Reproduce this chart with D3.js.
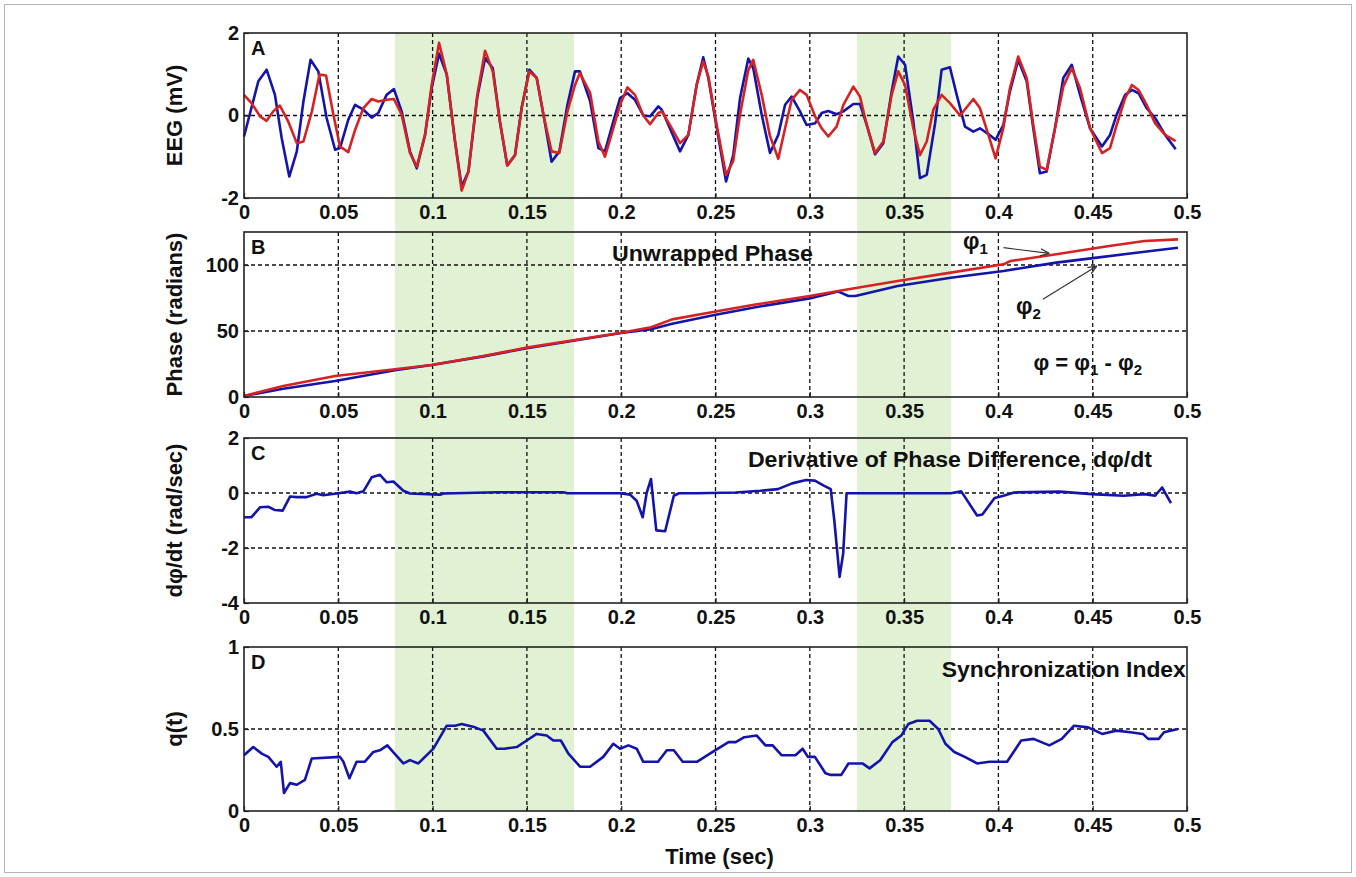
<!DOCTYPE html>
<html>
<head>
<meta charset="utf-8">
<script src="https://cdn.jsdelivr.net/npm/d3@7"></script>
<style>
body { margin: 0; background: #fff; }
svg text { font-family: "Liberation Sans", Arial, sans-serif; font-weight: bold; fill: #111; }
</style>
</head>
<body>
<svg id="chart"></svg>
<script>
// x axis ticks (time in sec)
const timeTicks = [0, 0.05, 0.1, 0.15, 0.2, 0.25, 0.3, 0.35, 0.4, 0.45, 0.5];
const timeTickLabels = ['0', '0.05', '0.1', '0.15', '0.2', '0.25', '0.3', '0.35', '0.4', '0.45', '0.5'];

// shaded (synchronized) intervals
const bandStart = [0.08, 0.325];
const bandEnd = [0.175, 0.375];

// y ticks per panel
const eegTicks = [-2, 0, 2];
const phaseTicks = [0, 50, 100];
const derivTicks = [-4, -2, 0, 2];
const syncTicks = [0, 0.5, 1];

// A: EEG signals [t, mV]
const eegBlue = [
  [0, -0.51], [0.0076, 0.83], [0.012, 1.11], [0.0164, 0.50], [0.020, -0.55], [0.024, -1.48],
  [0.028, -0.87], [0.0315, 0.34], [0.0353, 1.35], [0.0394, 1.07], [0.0438, -0.06], [0.0483, -0.83],
  [0.0509, -0.79], [0.0553, -0.10], [0.0589, 0.26], [0.0633, 0.14], [0.0677, -0.05], [0.0712, 0.06],
  [0.0756, 0.50], [0.0795, 0.64], [0.0836, 0.10], [0.088, -0.87], [0.0916, -1.28], [0.096, -0.47],
  [0.0995, 0.66], [0.1034, 1.50], [0.1075, 0.99], [0.1119, -0.63], [0.1154, -1.72], [0.119, -1.36],
  [0.1237, 0.45], [0.1278, 1.39], [0.1319, 1.15], [0.1357, -0.15], [0.1396, -1.21], [0.1437, -0.96],
  [0.1472, 0.18], [0.1513, 1.11], [0.1552, 0.91], [0.1591, -0.06], [0.1631, -1.12], [0.1672, -0.87],
  [0.1715, 0.26], [0.1755, 1.07], [0.1781, 1.07], [0.1835, 0.35], [0.1879, -0.79], [0.1914, -0.87],
  [0.1958, -0.15], [0.1994, 0.42], [0.2033, 0.54], [0.2073, 0.38], [0.2117, 0.0], [0.2153, -0.02],
  [0.2197, 0.22], [0.2215, 0.14], [0.2258, -0.31], [0.2312, -0.87], [0.2356, -0.47], [0.2400, 0.74],
  [0.2435, 1.41], [0.2462, 0.91], [0.2497, -0.05], [0.2556, -1.60], [0.2594, -0.96], [0.2630, 0.42],
  [0.2674, 1.38], [0.2700, 1.15], [0.2745, 0.02], [0.2789, -0.91], [0.2833, -0.47], [0.2869, 0.26],
  [0.2904, 0.46], [0.2948, 0.10], [0.2983, -0.23], [0.3028, -0.19], [0.3063, 0.06], [0.3098, 0.11],
  [0.3142, 0.03], [0.3178, 0.10], [0.3231, 0.28], [0.3266, 0.28], [0.3302, -0.23], [0.3346, -0.94],
  [0.3390, -0.67], [0.3434, 0.58], [0.3469, 1.43], [0.3505, 1.23], [0.3549, -0.15], [0.3584, -1.52],
  [0.3620, -1.44], [0.3664, -0.20], [0.3699, 1.11], [0.3743, 1.17], [0.3779, 0.50], [0.3823, -0.27],
  [0.3867, -0.39], [0.3902, -0.31], [0.3947, -0.45], [0.3985, -0.59], [0.4026, -0.23], [0.4061, 0.58],
  [0.4105, 1.35], [0.4150, 0.83], [0.4185, -0.31], [0.4220, -1.40], [0.4256, -1.36], [0.4300, -0.31],
  [0.4344, 0.91], [0.4389, 1.23], [0.4433, 0.50], [0.4486, -0.31], [0.4549, -0.75], [0.4592, -0.47],
  [0.4627, 0.02], [0.4672, 0.50], [0.4708, 0.62], [0.4743, 0.54], [0.4786, 0.18], [0.4831, -0.06],
  [0.4884, -0.47], [0.494, -0.82]
];
const eegRed = [
  [0, 0.50], [0.004, 0.30], [0.0085, -0.02], [0.012, -0.13], [0.0155, 0.10], [0.019, 0.24],
  [0.0235, -0.15], [0.028, -0.67], [0.0315, -0.63], [0.036, 0.10], [0.040, 0.99], [0.0435, 0.97],
  [0.0474, 0.02], [0.0509, -0.75], [0.0553, -0.89], [0.0589, -0.35], [0.0633, 0.18], [0.0677, 0.40],
  [0.0712, 0.34], [0.0756, 0.38], [0.0795, 0.40], [0.0836, 0.02], [0.088, -0.91], [0.0916, -1.24],
  [0.096, -0.47], [0.0995, 0.74], [0.1034, 1.76], [0.1075, 1.00], [0.1119, -0.63], [0.1154, -1.82],
  [0.119, -1.36], [0.1237, 0.50], [0.1278, 1.57], [0.1319, 1.07], [0.1357, -0.15], [0.1396, -1.21],
  [0.1437, -0.96], [0.1472, 0.18], [0.1513, 1.07], [0.1552, 0.91], [0.1591, -0.06], [0.1631, -0.87],
  [0.1672, -0.91], [0.1715, 0.10], [0.1755, 0.74], [0.1781, 1.03], [0.1835, 0.55], [0.1879, -0.63],
  [0.1914, -1.00], [0.1958, -0.31], [0.1994, 0.26], [0.2033, 0.68], [0.2073, 0.50], [0.2117, 0.0],
  [0.2153, -0.21], [0.2197, 0.06], [0.2215, 0.10], [0.2258, -0.23], [0.2312, -0.67], [0.2356, -0.47],
  [0.2400, 0.74], [0.2435, 1.31], [0.2462, 0.95], [0.2497, 0.0], [0.2556, -1.44], [0.2594, -1.10],
  [0.2630, 0.02], [0.2674, 1.10], [0.2700, 1.35], [0.2745, 0.50], [0.2789, -0.50], [0.2833, -1.05],
  [0.2869, -0.31], [0.2904, 0.38], [0.2948, 0.62], [0.2983, 0.50], [0.3028, -0.02], [0.3063, -0.31],
  [0.3098, -0.51], [0.3142, -0.27], [0.3178, 0.26], [0.3231, 0.70], [0.3266, 0.46], [0.3302, -0.23],
  [0.3346, -0.91], [0.3390, -0.63], [0.3434, 0.50], [0.3469, 1.07], [0.3505, 0.74], [0.3549, -0.31],
  [0.3584, -0.96], [0.3620, -0.63], [0.3655, 0.14], [0.3699, 0.50], [0.3743, 0.30], [0.3797, 0.0],
  [0.3867, 0.40], [0.3902, 0.18], [0.3947, -0.47], [0.3985, -1.04], [0.4026, -0.31], [0.4061, 0.66],
  [0.4105, 1.43], [0.4150, 0.91], [0.4185, -0.23], [0.4220, -1.24], [0.4256, -1.32], [0.4300, -0.31],
  [0.4344, 0.70], [0.4389, 1.15], [0.4433, 0.66], [0.4486, -0.31], [0.4549, -0.91], [0.4592, -0.79],
  [0.4627, -0.23], [0.4672, 0.42], [0.4708, 0.74], [0.4743, 0.62], [0.4786, 0.26], [0.4831, -0.19],
  [0.4884, -0.47], [0.494, -0.62]
];

// B: unwrapped phase [t, rad]
const phaseRed = [
  [0, 0.8], [0.0208, 8.3], [0.0483, 15.9], [0.08, 21.0], [0.0995, 24.2], [0.127, 31.1], [0.15, 37.4],
  [0.2, 48.7], [0.2158, 52.8], [0.227, 58.8], [0.2494, 64.6], [0.2719, 70.2], [0.2999, 76.5],
  [0.3205, 81.6], [0.3466, 87.9], [0.3747, 94.2], [0.4027, 100.5], [0.4064, 103], [0.4307, 108.1],
  [0.4588, 114.4], [0.4775, 118.2], [0.4952, 119.4]
];
const phaseBlue = [
  [0, 0.8], [0.0208, 6.3], [0.0483, 12.1], [0.08, 20.2], [0.0995, 24.2], [0.127, 30.8], [0.15, 37.0],
  [0.2, 48.5], [0.2158, 51.3], [0.227, 55.5], [0.2494, 62.1], [0.2719, 68.2], [0.2999, 74.7],
  [0.3149, 80.0], [0.3205, 76.5], [0.3242, 76.5], [0.3466, 84.1], [0.3747, 90.4], [0.4027, 95.5],
  [0.4307, 101.8], [0.4522, 105.6], [0.4775, 110.1], [0.4952, 113.1]
];

// C: derivative of phase difference [t, rad/sec]
const dPhase = [
  [0, -0.88], [0.004, -0.88], [0.0085, -0.52], [0.0129, -0.50], [0.0164, -0.62], [0.0205, -0.64],
  [0.0244, -0.13], [0.028, -0.15], [0.0332, -0.15], [0.0385, -0.03], [0.042, -0.08], [0.0491, -0.02],
  [0.0562, 0.05], [0.0597, -0.01], [0.0633, 0.06], [0.0677, 0.57], [0.0721, 0.66], [0.0757, 0.39],
  [0.0792, 0.42], [0.0845, 0.08], [0.088, -0.02], [0.1039, -0.06], [0.106, -0.02], [0.134, 0.03],
  [0.1693, 0.03], [0.1715, -0.01], [0.1994, -0.01], [0.2047, -0.06], [0.2082, -0.28], [0.2114, -0.88],
  [0.2135, 0.0], [0.2158, 0.51], [0.2186, -1.36], [0.2233, -1.39], [0.2279, -0.10], [0.2307, -0.01],
  [0.2401, -0.01], [0.2607, 0.02], [0.2737, 0.08], [0.2831, 0.14], [0.2906, 0.35], [0.298, 0.47],
  [0.3027, 0.45], [0.3074, 0.27], [0.3111, 0.14], [0.313, -1.0], [0.3158, -3.05], [0.3177, -2.2],
  [0.3195, -0.01], [0.3747, -0.01], [0.3803, 0.06], [0.3887, -0.82], [0.3915, -0.78], [0.398, -0.18],
  [0.4027, -0.10], [0.4083, 0.02], [0.4326, 0.05], [0.4494, -0.04], [0.4664, -0.10], [0.4775, -0.04],
  [0.4831, -0.10], [0.4868, 0.20], [0.4915, -0.37]
];

// D: synchronization index q(t)
const syncIndex = [
  [0, 0.34], [0.0049, 0.39], [0.0094, 0.35], [0.0129, 0.33], [0.0173, 0.27], [0.0195, 0.30],
  [0.0212, 0.11], [0.0244, 0.17], [0.028, 0.16], [0.0323, 0.19], [0.0359, 0.32], [0.0509, 0.33],
  [0.0527, 0.30], [0.0559, 0.20], [0.0597, 0.30], [0.064, 0.30], [0.0686, 0.36], [0.072, 0.37],
  [0.076, 0.40], [0.079, 0.36], [0.0845, 0.29], [0.088, 0.31], [0.0924, 0.29], [0.1004, 0.38],
  [0.1075, 0.52], [0.1119, 0.52], [0.1154, 0.53], [0.1225, 0.51], [0.1269, 0.49], [0.134, 0.38],
  [0.138, 0.38], [0.1446, 0.39], [0.1499, 0.43], [0.1552, 0.47], [0.1605, 0.46], [0.164, 0.43],
  [0.168, 0.43], [0.172, 0.35], [0.1782, 0.27], [0.1835, 0.27], [0.1905, 0.33], [0.1958, 0.41],
  [0.1994, 0.38], [0.2038, 0.40], [0.2082, 0.38], [0.2117, 0.30], [0.2195, 0.30], [0.2242, 0.37],
  [0.2279, 0.37], [0.2326, 0.30], [0.2401, 0.30], [0.2485, 0.36], [0.2569, 0.42], [0.2607, 0.42],
  [0.2653, 0.45], [0.2719, 0.46], [0.2765, 0.40], [0.2803, 0.40], [0.285, 0.34], [0.2924, 0.34],
  [0.2962, 0.38], [0.299, 0.33], [0.3027, 0.33], [0.3083, 0.23], [0.3111, 0.22], [0.3167, 0.22],
  [0.3205, 0.29], [0.3279, 0.29], [0.3317, 0.26], [0.3373, 0.31], [0.3438, 0.42], [0.3485, 0.46],
  [0.3522, 0.53], [0.3569, 0.55], [0.3635, 0.55], [0.3681, 0.50], [0.3719, 0.41], [0.3766, 0.36],
  [0.3822, 0.33], [0.3887, 0.29], [0.3953, 0.30], [0.4046, 0.30], [0.4121, 0.43], [0.4186, 0.44],
  [0.427, 0.40], [0.4336, 0.44], [0.4401, 0.52], [0.4476, 0.51], [0.455, 0.47], [0.4625, 0.49],
  [0.47, 0.48], [0.4766, 0.47], [0.4794, 0.44], [0.485, 0.44], [0.4878, 0.48], [0.4952, 0.50]
];

const width = 1356;
const height = 877;
const plotLeft = 244;
const plotRight = 1187;
const blue = '#1414aa';
const red = '#d62222';

const svg = d3.select('#chart')
  .attr('width', width)
  .attr('height', height);

// thin frame around the whole figure
svg.append('rect')
  .attr('x', 4.5).attr('y', 4.5)
  .attr('width', width - 9).attr('height', height - 9)
  .attr('fill', 'none')
  .attr('stroke', '#b4b4b4');

const xScale = d3.scaleLinear()
  .domain([0, 0.5])
  .range([plotLeft, plotRight]);

const panels = [
  { label: 'A', top: 33, bottom: 198, domain: [-2, 2], ticks: eegTicks, title: 'EEG (mV)' },
  { label: 'B', top: 232, bottom: 397, domain: [0, 125], ticks: phaseTicks, title: 'Phase (radians)' },
  { label: 'C', top: 438, bottom: 603, domain: [-4, 2], ticks: derivTicks, title: 'dφ/dt (rad/sec)' },
  { label: 'D', top: 647, bottom: 811, domain: [0, 1], ticks: syncTicks, title: 'q(t)' }
];
panels.forEach(p => {
  p.y = d3.scaleLinear().domain(p.domain).range([p.bottom, p.top]);
});

// green shaded intervals across all panels
svg.selectAll('rect.band')
  .data(d3.zip(bandStart, bandEnd))
  .enter()
  .append('rect')
  .attr('class', 'band')
  .attr('x', d => xScale(d[0]))
  .attr('width', d => xScale(d[1]) - xScale(d[0]))
  .attr('y', panels[0].top)
  .attr('height', panels[3].bottom - panels[0].top)
  .attr('fill', '#e1f1d3');

const line = (y) => d3.line()
  .x(d => xScale(d[0]))
  .y(d => y(d[1]));

const drawPanel = (p, series) => {
  const g = svg.append('g');

  // dashed grid
  g.selectAll('line.vgrid')
    .data(timeTicks.slice(1, -1))
    .enter()
    .append('line')
    .attr('x1', d => xScale(d)).attr('x2', d => xScale(d))
    .attr('y1', p.top).attr('y2', p.bottom)
    .attr('stroke', '#111')
    .attr('stroke-width', 1.3)
    .attr('stroke-dasharray', '4,3');

  g.selectAll('line.hgrid')
    .data(p.ticks.filter(t => t > p.domain[0] && t < p.domain[1]))
    .enter()
    .append('line')
    .attr('x1', plotLeft).attr('x2', plotRight)
    .attr('y1', d => p.y(d)).attr('y2', d => p.y(d))
    .attr('stroke', '#111')
    .attr('stroke-width', 1.3)
    .attr('stroke-dasharray', '4,3');

  series.forEach(s => {
    g.append('path')
      .datum(s.data)
      .attr('d', line(p.y))
      .attr('fill', 'none')
      .attr('stroke', s.color)
      .attr('stroke-width', 2.6)
      .attr('stroke-linejoin', 'round');
  });

  // box
  g.append('rect')
    .attr('x', plotLeft).attr('y', p.top)
    .attr('width', plotRight - plotLeft)
    .attr('height', p.bottom - p.top)
    .attr('fill', 'none')
    .attr('stroke', '#222')
    .attr('stroke-width', 1.6);

  const xAxis = d3.axisBottom(xScale)
    .tickValues(timeTicks)
    .tickFormat((d, i) => timeTickLabels[i])
    .tickSize(-5)
    .tickPadding(7);

  const yAxis = d3.axisLeft(p.y)
    .tickValues(p.ticks)
    .tickFormat(d => String(d))
    .tickSize(-5)
    .tickPadding(5);

  const xg = g.append('g')
    .attr('transform', 'translate(0,' + p.bottom + ')')
    .call(xAxis);
  const yg = g.append('g')
    .attr('transform', 'translate(' + plotLeft + ',0)')
    .call(yAxis);

  [xg, yg].forEach(ax => {
    ax.select('.domain').remove();
    ax.selectAll('line').attr('stroke', '#222').attr('stroke-width', 1.2);
    ax.selectAll('text')
      .style('font-family', '"Liberation Sans", Arial, sans-serif')
      .style('font-weight', 'bold')
      .style('font-size', '20px')
      .attr('fill', '#111');
  });

  g.append('text')
    .attr('x', plotLeft + 7)
    .attr('y', p.top + 22)
    .style('font-size', '20px')
    .text(p.label);

  g.append('text')
    .attr('transform', 'translate(182,' + ((p.top + p.bottom) / 2) + ') rotate(-90)')
    .attr('text-anchor', 'middle')
    .style('font-size', '22px')
    .text(p.title);

  return g;
};

const gA = drawPanel(panels[0], [
  { data: eegBlue, color: blue },
  { data: eegRed, color: red }
]);
const gB = drawPanel(panels[1], [
  { data: phaseBlue, color: blue },
  { data: phaseRed, color: red }
]);
const gC = drawPanel(panels[2], [{ data: dPhase, color: blue }]);
const gD = drawPanel(panels[3], [{ data: syncIndex, color: blue }]);

// annotations
const yB = panels[1].y;
const yC = panels[2].y;
const yD = panels[3].y;

gB.append('text')
  .attr('x', xScale(0.1951))
  .attr('y', yB(103))
  .attr('textLength', 201)
  .attr('lengthAdjust', 'spacingAndGlyphs')
  .style('font-size', '22px')
  .text('Unwrapped Phase');

const phiLabel = (g, t, v, sub) => {
  const txt = g.append('text')
    .attr('x', xScale(t))
    .attr('y', yB(v))
    .style('font-size', '23px');
  txt.append('tspan').text('φ');
  txt.append('tspan')
    .attr('dy', 5)
    .style('font-size', '15px')
    .text(sub);
  return txt;
};
phiLabel(gB, 0.3812, 112, '1');
phiLabel(gB, 0.4093, 63, '2');

const eq = gB.append('text')
  .attr('x', xScale(0.4186))
  .attr('y', yB(20.5))
  .style('font-size', '22px');
eq.append('tspan').text('φ = φ');
eq.append('tspan').attr('dy', 5).style('font-size', '15px').text('1');
eq.append('tspan').attr('dy', -5).text(' - φ');
eq.append('tspan').attr('dy', 5).style('font-size', '15px').text('2');

svg.append('defs').append('marker')
  .attr('id', 'arrow')
  .attr('viewBox', '0 0 10 10')
  .attr('refX', 10).attr('refY', 5)
  .attr('markerWidth', 9).attr('markerHeight', 9)
  .attr('markerUnits', 'userSpaceOnUse')
  .attr('orient', 'auto')
  .append('path')
  .attr('d', 'M0,1 L10,5 L0,9')
  .attr('fill', 'none')
  .attr('stroke', '#333')
  .attr('stroke-width', 1.4);

const arrows = [
  [[0.4027, 113.1], [0.427, 108.8]],
  [[0.4236, 74], [0.4522, 99.2]]
];
gB.selectAll('line.arrow')
  .data(arrows)
  .enter()
  .append('line')
  .attr('x1', d => xScale(d[0][0])).attr('y1', d => yB(d[0][1]))
  .attr('x2', d => xScale(d[1][0])).attr('y2', d => yB(d[1][1]))
  .attr('stroke', '#333')
  .attr('stroke-width', 1.2)
  .attr('marker-end', 'url(#arrow)');

gC.append('text')
  .attr('x', xScale(0.2672))
  .attr('y', yC(0.95))
  .attr('textLength', 404)
  .attr('lengthAdjust', 'spacingAndGlyphs')
  .style('font-size', '22px')
  .text('Derivative of Phase Difference, dφ/dt');

gD.append('text')
  .attr('x', xScale(0.37))
  .attr('y', yD(0.817))
  .attr('textLength', 244)
  .attr('lengthAdjust', 'spacingAndGlyphs')
  .style('font-size', '22px')
  .text('Synchronization Index');

svg.append('text')
  .attr('x', (plotLeft + plotRight) / 2 + 4)
  .attr('y', 864)
  .attr('text-anchor', 'middle')
  .style('font-size', '22px')
  .text('Time (sec)');
</script>
</body>
</html>
